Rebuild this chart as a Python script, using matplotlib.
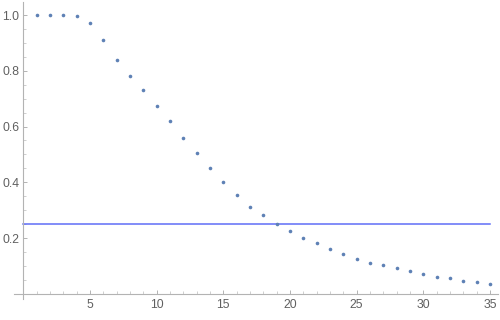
import matplotlib
matplotlib.use("Agg")
import matplotlib.pyplot as plt
from matplotlib.ticker import MultipleLocator, FixedLocator

plt.rcParams['font.family'] = ['Liberation Sans', 'DejaVu Sans']

x = list(range(1, 36))
y = [1.0, 1.0, 1.0, 0.995, 0.970, 0.909, 0.840, 0.780, 0.730, 0.675,
     0.620, 0.560, 0.506, 0.450, 0.401, 0.356, 0.310, 0.281, 0.250, 0.226,
     0.201, 0.181, 0.161, 0.141, 0.126, 0.111, 0.102, 0.091, 0.082, 0.071,
     0.061, 0.055, 0.047, 0.041, 0.036]
threshold = 0.25
line_x = [0, 35]
xticks = [5, 10, 15, 20, 25, 30, 35]
yticks = [0.2, 0.4, 0.6, 0.8, 1.0]

fig = plt.figure(figsize=(5, 3.2), dpi=100)
ax = fig.add_axes([14/500, (320-299.3)/320, (498-14)/500, (299.3-2)/320])
ax.set_xlim(-0.7, 35.6)
ax.set_ylim(-0.02, 1.047)

ax.plot(line_x, [threshold, threshold], color="#5f6ef7", lw=1.1, zorder=2)
ax.plot(x, y, 'o', color="#5E81B5", markersize=2.6, markeredgewidth=0, zorder=3)

for s in ["top", "right"]:
    ax.spines[s].set_visible(False)
ax.spines["left"].set_position(("data", 0))
ax.spines["bottom"].set_position(("data", 0))
for s in ["left", "bottom"]:
    ax.spines[s].set_color("#b3b3b3")
    ax.spines[s].set_linewidth(0.8)

ax.xaxis.set_major_locator(FixedLocator(xticks))
ax.xaxis.set_minor_locator(MultipleLocator(1))
ax.yaxis.set_major_locator(FixedLocator(yticks))
ax.yaxis.set_minor_locator(MultipleLocator(0.05))
ax.set_xticklabels([str(v) for v in xticks])
ax.set_yticklabels([f"{v:.1f}" for v in yticks])
ax.tick_params(which="major", direction="in", length=3.2, width=0.7, color="#b3b3b3",
               labelsize=8.8, labelcolor="#606060", pad=3)
ax.tick_params(which="minor", direction="in", length=2.0, width=0.6, color="#c8c8c8")
ax.tick_params(axis="x", which="major", pad=4)

fig.savefig("out.png", dpi=100)
